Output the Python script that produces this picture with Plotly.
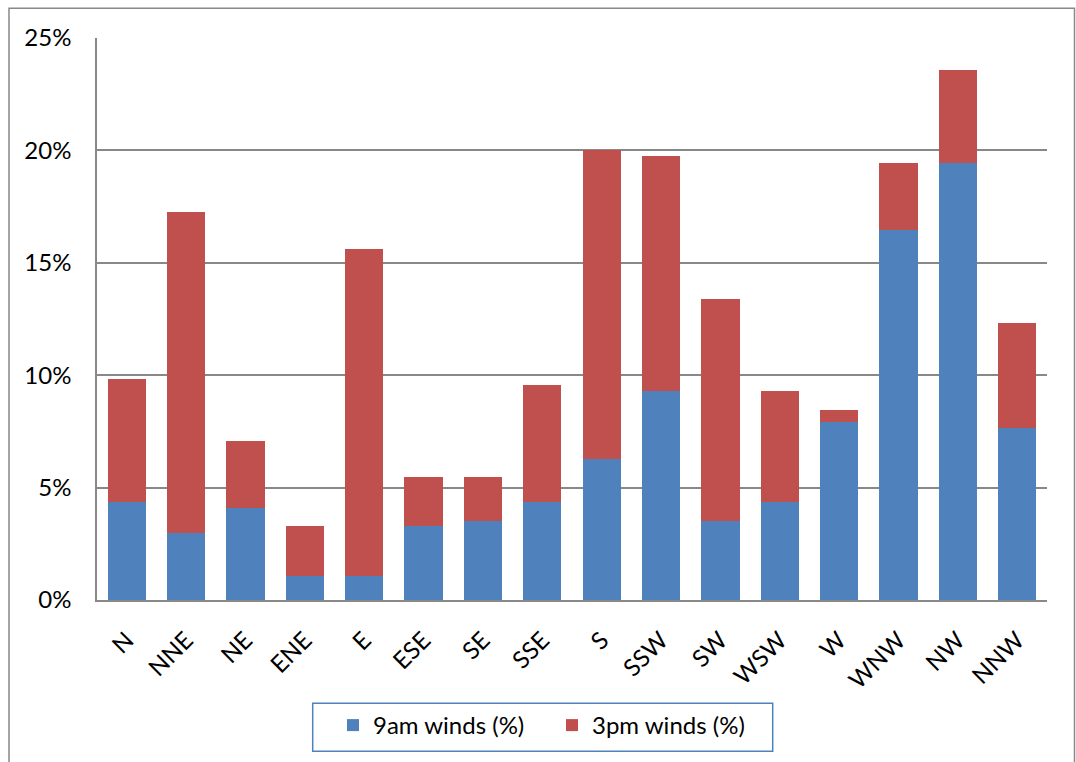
import plotly.graph_objects as go

# Wind direction frequencies, 9am and 3pm observations (stacked)
directions = ["N", "NNE", "NE", "ENE", "E", "ESE", "SE", "SSE",
              "S", "SSW", "SW", "WSW", "W", "WNW", "NW", "NNW"]
winds_9am = [4.37, 2.98, 4.08, 1.05, 1.05, 3.28, 3.53, 4.37,
             6.27, 9.30, 3.53, 4.37, 7.94, 16.45, 19.45, 7.67]
winds_3pm = [5.46, 14.29, 3.01, 2.23, 14.56, 2.18, 1.93, 5.20,
             13.73, 10.43, 9.88, 4.93, 0.53, 3.00, 4.11, 4.66]
y_ticks = [0, 5, 10, 15, 20, 25]

BLUE = "#4F81BD"
RED = "#C0504D"
GRID = "#888888"
FONT = "Lato"
FS = 24

fig = go.Figure()
fig.add_trace(go.Bar(
    x=directions, y=[v / 100 for v in winds_9am], name="9am winds (%)",
    marker=dict(color=BLUE, line=dict(width=0)),
))
fig.add_trace(go.Bar(
    x=directions, y=[v / 100 for v in winds_3pm], name="3pm winds (%)",
    marker=dict(color=RED, line=dict(width=0)),
))

W, H = 1076, 762
ml, mr, mt, mb = 97, 29, 38, 162
pw, ph = W - ml - mr, H - mt - mb


def px_x(x):
    return (x - ml) / pw


def px_y(y):
    return (H - mb - y) / ph


fig.update_layout(
    width=W, height=H,
    margin=dict(l=ml, r=mr, t=mt, b=mb, autoexpand=False),
    barmode="stack",
    bargap=0.355,
    paper_bgcolor="white",
    plot_bgcolor="white",
    font=dict(family=FONT, size=FS, color="black"),
    showlegend=True,
    legend=dict(
        orientation="h",
        x=px_x(333), y=px_y(703), xanchor="left", yanchor="top",
        bgcolor="rgba(0,0,0,0)", borderwidth=0,
        font=dict(family=FONT, size=FS, color="black"),
        entrywidth=174, entrywidthmode="pixels",
        traceorder="normal",
    ),
    xaxis=dict(
        tickangle=-45,
        showgrid=False, automargin=False,
        showline=True, linecolor=GRID, linewidth=1.5,
        ticks="", ticklabelstandoff=15,
        tickfont=dict(family=FONT, size=FS),
    ),
    yaxis=dict(
        range=[0, 0.25], automargin=False,
        tickvals=[t / 100 for t in y_ticks],
        tickformat=".0%",
        showgrid=True, gridcolor=GRID, gridwidth=1.5,
        showline=True, linecolor=GRID, linewidth=1.5,
        ticks="", ticklabelstandoff=19,
        zeroline=False,
        tickfont=dict(family=FONT, size=FS),
    ),
    shapes=[
        # outer chart frame
        dict(type="rect", xref="paper", yref="paper",
             x0=px_x(9), x1=px_x(1074.5), y0=px_y(775), y1=px_y(8.3),
             line=dict(color=GRID, width=1.5), fillcolor="rgba(0,0,0,0)",
             layer="below"),
        # legend frame
        dict(type="rect", xref="paper", yref="paper",
             x0=px_x(312.7), x1=px_x(772.7), y0=px_y(751.3), y1=px_y(703.3),
             line=dict(color=BLUE, width=1.5), fillcolor="rgba(0,0,0,0)",
             layer="above"),
    ],
)

fig.write_html("out.html")
